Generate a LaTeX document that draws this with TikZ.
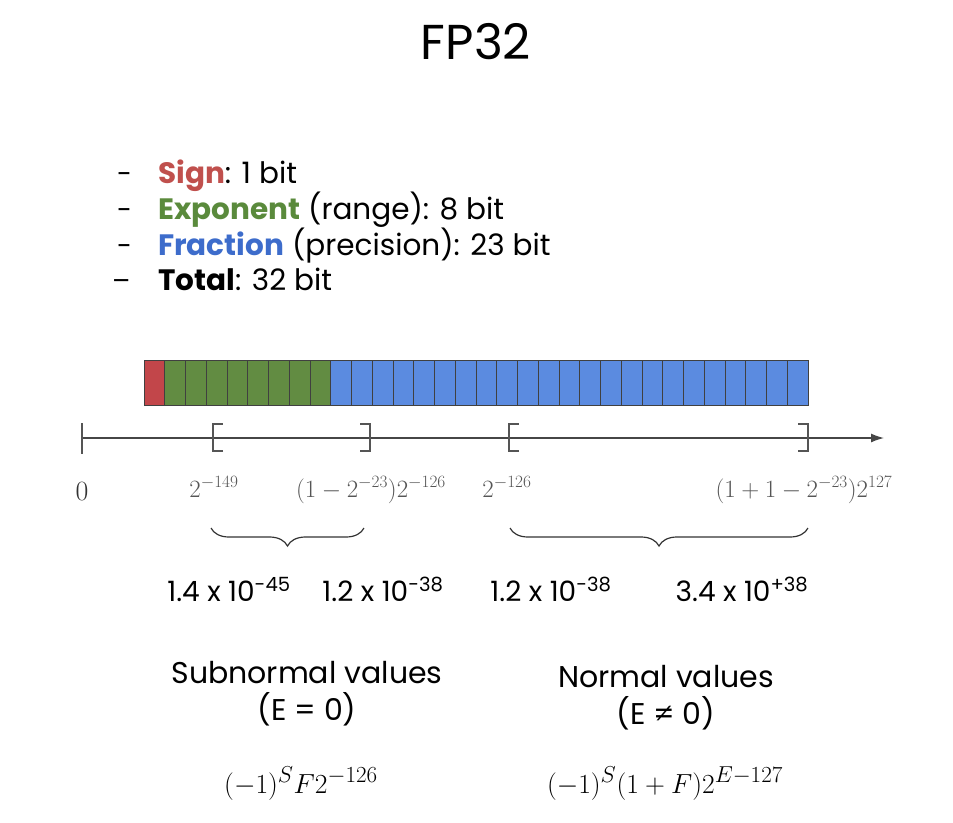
\documentclass[tikz,border=0pt]{standalone}
\usepackage[no-math]{fontspec}
\setmainfont{Poppins}
\usetikzlibrary{arrows.meta,decorations.pathreplacing}
\definecolor{signred}{RGB}{194,70,74}
\definecolor{expgreen}{RGB}{98,140,66}
\definecolor{fracblue}{RGB}{91,139,224}
\definecolor{txtred}{RGB}{192,80,77}
\definecolor{txtgreen}{RGB}{90,138,60}
\definecolor{txtblue}{RGB}{61,108,203}
\definecolor{linegrey}{RGB}{70,70,70}
\definecolor{labgrey}{RGB}{85,85,85}
\begin{document}
\begin{tikzpicture}[x=1pt,y=-1pt,
  cell/.style={draw=black!75,line width=0.8pt},
  bullet/.style={anchor=base west,inner sep=0pt,font=\fontsize{29.5}{34}\selectfont},
  dashnode/.style={anchor=base west,inner sep=0pt,font=\fontsize{27}{30}\selectfont},
  mlabel/.style={anchor=base,inner sep=0pt,text=labgrey,font=\fontsize{24.3}{28}\selectfont},
  numlabel/.style={anchor=base,inner sep=0pt,font=\fontsize{28}{32}\selectfont},
  caption/.style={anchor=base,inner sep=0pt,font=\fontsize{30}{34}\selectfont},
  formula/.style={anchor=base,inner sep=0pt,font=\fontsize{24.88}{30}\selectfont},
  bracketline/.style={draw=labgrey,line width=1.4pt},
  bracelines/.style={draw=black!80,line width=1.2pt,decorate,decoration={brace,mirror,amplitude=18pt}}
]
\useasboundingbox (0,0) rectangle (953,822);

% title
\node[anchor=base,inner sep=0pt,font=\fontsize{49}{56}\selectfont] (title) at (476,59) {FP32};

% bullet list
\node[dashnode] (d1) at (117,183) {-};
\node[dashnode] (d2) at (117,219) {-};
\node[dashnode] (d3) at (117,255) {-};
\node[dashnode] (d4) at (112,290) {–};
\node[bullet] (b1) at (158,183) {\textcolor{txtred}{\textbf{Sign}}: 1 bit};
\node[bullet] (b2) at (158,219) {\textcolor{txtgreen}{\textbf{Exponent}} (range): 8 bit};
\node[bullet] (b3) at (158,255) {\textcolor{txtblue}{\textbf{Fraction}} (precision): 23 bit};
\node[bullet] (b4) at (158,290) {\textbf{Total}: 32 bit};

% bit bar
\fill[signred] (144,360) rectangle (164.75,405);
\fill[expgreen] (164.75,360) rectangle (330.75,405);
\fill[fracblue] (330.75,360) rectangle (808,405);
\foreach \i in {0,...,31} {
  \draw[cell] ({144+20.75*\i},360) rectangle ({144+20.75*(\i+1)},405);
}

% number line
\coordinate (zero) at (82,438);
\coordinate (axend) at (884,438);
\draw[draw=linegrey,line width=1.3pt,-{Latex[length=13pt,width=9pt]}] (zero) -- (axend);
\draw[draw=labgrey,line width=1.4pt] (82,423) -- (82,454);

% brackets
\coordinate (b1l) at (213,438);
\coordinate (b1r) at (370,438);
\coordinate (b2l) at (509,438);
\coordinate (b2r) at (808,438);
\draw[bracketline] ([xshift=10pt,yshift=-13pt]b1l) -| ([yshift=14pt]b1l) -- ++(10,0);
\draw[bracketline] ([xshift=-10pt,yshift=-13pt]b1r) -| ([yshift=14pt]b1r) -- ++(-10,0);
\draw[bracketline] ([xshift=10pt,yshift=-13pt]b2l) -| ([yshift=14pt]b2l) -- ++(10,0);
\draw[bracketline] ([xshift=-10pt,yshift=-13pt]b2r) -| ([yshift=14pt]b2r) -- ++(-10,0);

% math labels
\node[mlabel,text=black!80,font=\fontsize{24.88}{30}\selectfont] (l0) at (82,500) {\scalebox{1.12}{$0$}};
\node[mlabel] (l1) at (214,497) {$2^{-149}$};
\node[mlabel] (l2) at (371,497) {$(1-2^{-23})2^{-126}$};
\node[mlabel] (l3) at (507,497) {$2^{-126}$};
\node[mlabel] (l4) at (804,497) {$(1+1-2^{-23})2^{127}$};

% braces
\coordinate (br1a) at (211,528);
\coordinate (br1b) at (364,528);
\coordinate (br2a) at (510,528);
\coordinate (br2b) at (808,528);
\draw[bracelines] (br1a) -- (br1b);
\draw[bracelines] (br2a) -- (br2b);

% numbers
\node[numlabel] (n1) at (229,601) {1.4 x 10\textsuperscript{-45}};
\node[numlabel] (n2) at (383,601) {1.2 x 10\textsuperscript{-38}};
\node[numlabel] (n3) at (551,601) {1.2 x 10\textsuperscript{-38}};
\node[numlabel] (n4) at (742,601) {3.4 x 10\textsuperscript{+38}};

% captions
\node[caption] (c1) at (307,683) {Subnormal values};
\node[caption] (c1b) at (307,720) {(E = 0)};
\node[caption] (c2) at (666,687) {Normal values};
\node[caption] (c2b) at (666,724) {(E ≠ 0)};

% formulas
\node[formula] (f1) at (301,793) {\scalebox{1.11}{$(-1)^SF2^{-126}$}};
\node[formula] (f2) at (665,793) {\scalebox{1.11}{$(-1)^S(1+F)2^{E-127}$}};
\end{tikzpicture}
\end{document}
